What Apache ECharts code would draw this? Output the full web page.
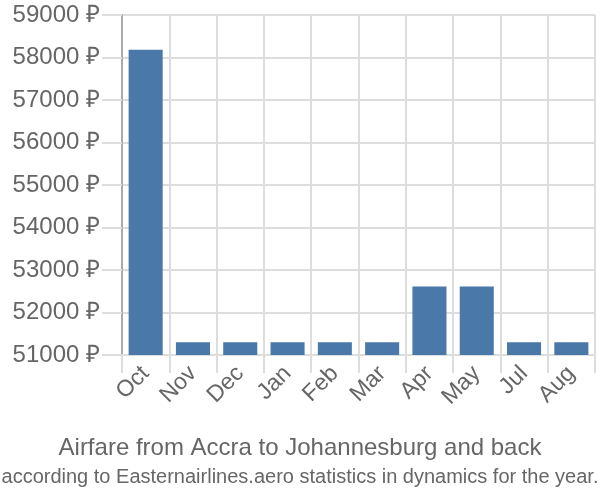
<!DOCTYPE html>
<html><head><meta charset="utf-8">
<script src="https://cdn.jsdelivr.net/npm/echarts@6/dist/echarts.min.js"></script>
<style>html,body{margin:0;padding:0;background:#fff}#c{width:600px;height:500px}</style>
</head><body><div id="c"></div>
<script>
const categories = ["Oct","Nov","Dec","Jan","Feb","Mar","Apr","May","Jul","Aug"];
const prices = [58180,51300,51300,51300,51300,51300,52610,52610,51300,51300];
const yMin = 51000, yMax = 59000, yStep = 1000;
const titleText = "Airfare from Accra to Johannesburg and back";
const subtitleText = "according to Easternairlines.aero statistics in dynamics for the year.";

const chart = echarts.init(document.getElementById('c'), null, {renderer:'canvas'});
chart.setOption({
  animation:false,
  textStyle:{fontFamily:'Liberation Sans, Arial, sans-serif'},
  title:{
    text:titleText, subtext:subtitleText,
    left:'center', top:431, itemGap:7,
    textStyle:{fontSize:24,fontWeight:'normal',color:'#666'},
    subtextStyle:{fontSize:20,color:'#666'}
  },
  grid:{left:122,right:5,top:15,bottom:145,containLabel:false},
  xAxis:{
    type:'category', data:categories,
    axisLine:{show:true,lineStyle:{color:'#ddd',width:2}},
    axisTick:{show:true,length:18,lineStyle:{color:'#ddd',width:2}},
    splitLine:{show:true,lineStyle:{color:'#ddd',width:2}},
    axisLabel:{rotate:45,fontSize:23,color:'#666',margin:15}
  },
  yAxis:{
    type:'value', min:yMin, max:yMax, interval:yStep,
    axisLine:{show:true,lineStyle:{color:'#aaa',width:2}},
    axisTick:{show:true,length:20,lineStyle:{color:'#ddd',width:2}},
    splitLine:{show:true,lineStyle:{color:'#ddd',width:2}},
    axisLabel:{fontSize:24,color:'#666',margin:22,formatter:v=>v+' ₽'}
  },
  series:[{type:'bar',data:prices,barCategoryGap:'28%',
    itemStyle:{color:'#4a78a8'}}]
});
</script></body></html>
